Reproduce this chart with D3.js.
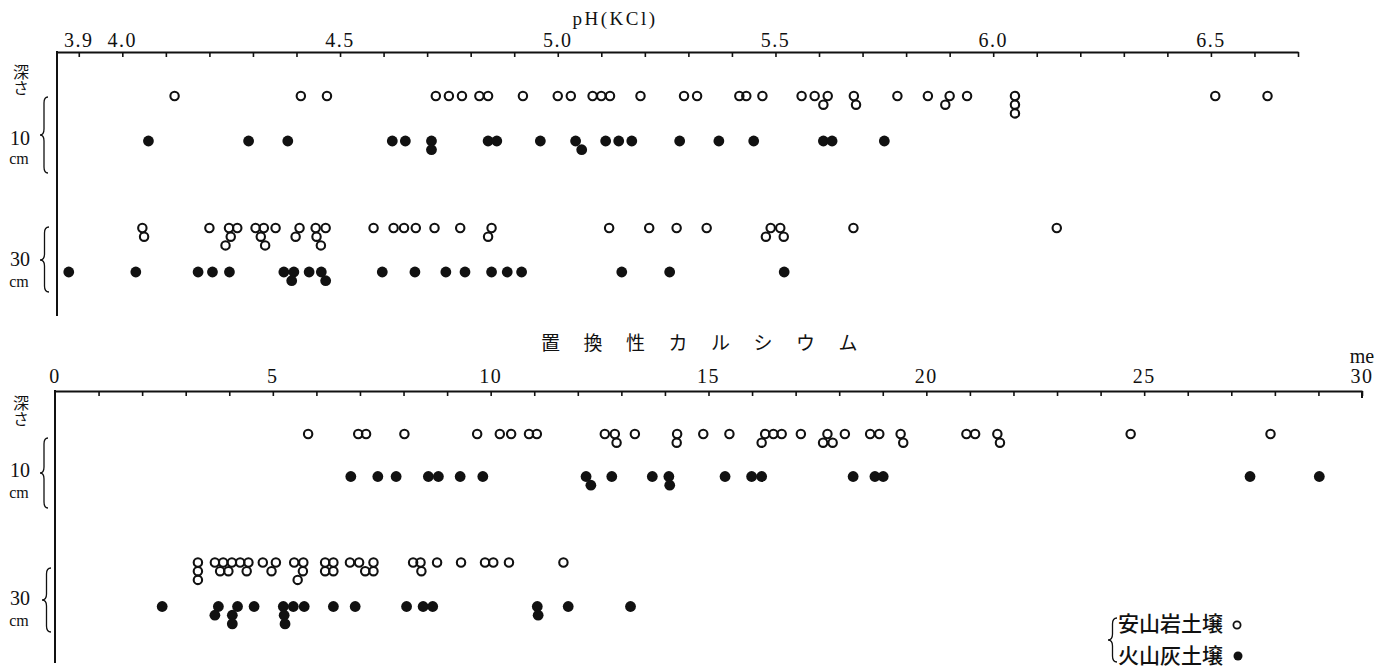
<!DOCTYPE html>
<html>
<head>
<meta charset="utf-8">
<script src="https://cdn.jsdelivr.net/npm/d3@7"></script>
<style>
  html, body { margin: 0; padding: 0; background: #fff; }
  svg { display: block; }
  .vert { writing-mode: vertical-rl; text-orientation: upright; }
</style>
</head>
<body>
<svg id="chart" width="1392" height="668"></svg>
<script>
// ---- pH (KCl) ----
const phTickLabels = [3.9, 4.0, 4.5, 5.0, 5.5, 6.0, 6.5];
const phAndesite10 = [4.12, 4.41, 4.47, 4.72, 4.75, 4.78, 4.82, 4.84, 4.92, 5.00, 5.03, 5.08, 5.10, 5.12,
  5.19, 5.29, 5.32, 5.417, 5.433, 5.47, 5.56, 5.59, 5.62, 5.61, 5.68, 5.685, 5.78, 5.85, 5.90, 5.89,
  5.94, 6.05, 6.05, 6.05, 6.51, 6.63];
const phVolcanic10 = [4.06, 4.29, 4.38, 4.62, 4.65, 4.71, 4.71, 4.84, 4.86, 4.96, 5.041, 5.055, 5.11,
  5.14, 5.17, 5.28, 5.37, 5.45, 5.61, 5.63, 5.75];
const phAndesite30 = [4.046, 4.05, 4.20, 4.245, 4.264, 4.249, 4.237, 4.306, 4.325, 4.318, 4.328, 4.352,
  4.407, 4.398, 4.444, 4.446, 4.467, 4.456, 4.577, 4.623, 4.647, 4.674, 4.717, 4.776, 4.848, 4.84,
  5.118, 5.21, 5.273, 5.342, 5.489, 5.511, 5.478, 5.519, 5.679, 6.146];
const phVolcanic30 = [3.877, 4.031, 4.174, 4.207, 4.246, 4.371, 4.394, 4.389, 4.429, 4.457, 4.467,
  4.597, 4.672, 4.743, 4.787, 4.848, 4.884, 4.917, 5.147, 5.257, 5.52];

// ---- exchangeable calcium (me) ----
const caTickLabels = [0, 5, 10, 15, 20, 25, 30];
const caAndesite10 = [5.81, 6.96, 7.14, 8.02, 9.69, 10.21, 10.47, 10.88, 11.06, 12.62, 12.85, 12.89,
  13.31, 14.28, 14.27, 14.88, 15.48, 16.30, 16.49, 16.68, 16.22, 17.12, 17.73, 17.63, 17.85, 18.13,
  18.71, 18.92, 19.41, 19.47, 20.92, 21.12, 21.63, 21.69, 24.69, 27.90];
const caVolcanic10 = [6.79, 7.41, 7.83, 8.57, 8.80, 9.30, 9.82, 12.19, 12.30, 12.78, 13.71, 14.09,
  14.11, 15.38, 15.99, 16.22, 18.32, 18.82, 19.01, 27.43, 29.02];
const caAndesite30 = [3.28, 3.28, 3.28, 3.67, 3.86, 4.06, 4.25, 4.44, 3.79, 3.98, 4.40, 4.77, 5.07,
  4.97, 5.49, 5.70, 5.69, 5.57, 6.20, 6.39, 6.20, 6.39, 6.77, 6.98, 7.31, 7.12, 7.31, 8.22, 8.39,
  8.41, 8.77, 9.32, 9.87, 10.06, 10.42, 11.67];
const caVolcanic30 = [2.46, 3.75, 3.67, 4.19, 4.07, 4.07, 4.57, 5.24, 5.26, 5.28, 5.47, 5.72, 6.39,
  6.89, 8.07, 8.45, 8.67, 11.07, 11.09, 11.78, 13.21];

// ---- text ----
const phTitle = "pH(KCl)";
const caTitle = "置換性カルシウム";
const caUnit = "me";
const depthWord = "深さ";
const depthLabels = ["10", "30"];
const depthUnit = "cm";
const legendLabels = ["安山岩土壌", "火山灰土壌"];

const INK = "#111";
const SERIF = "'Liberation Serif', 'DejaVu Serif', serif";
const JP = "'Noto Sans CJK JP', sans-serif";

const svg = d3.select("#chart");

const xPh = d3.scaleLinear().domain([3.85, 6.70]).range([57, 1298]);
const xCa = d3.scaleLinear().domain([0, 30]).range([55, 1362]);

// horizontal axis with small downward ticks
function drawAxis(scale, y, minor) {
  const g = svg.append("g")
    .attr("transform", `translate(0,${y})`)
    .call(d3.axisBottom(scale).tickValues(minor).tickSize(5).tickSizeOuter(0).tickFormat(""));
  g.select(".domain").attr("stroke", INK).attr("stroke-width", 2);
  g.selectAll(".tick line").attr("stroke", INK).attr("stroke-width", 1.6);
  return g;
}

function tickLabels(scale, values, y, fmt) {
  svg.append("g").selectAll("text").data(values).join("text")
    .attr("x", d => scale(d))
    .attr("y", y)
    .attr("text-anchor", "middle")
    .attr("font-family", SERIF)
    .attr("font-size", 20)
    .attr("letter-spacing", 1.5)
    .attr("fill", INK)
    .text(fmt);
}

// duplicate or near-coincident readings are stacked downward
function plotRow(values, scale, y, filled) {
  const placed = [];
  const pts = values.map(v => {
    const px = scale(v);
    let level = 0;
    while ((placed[level] || []).some(p => Math.abs(p - px) < 6.5)) level++;
    (placed[level] = placed[level] || []).push(px);
    return { v, level };
  });
  svg.append("g").selectAll("circle").data(pts).join("circle")
    .attr("cx", d => scale(d.v))
    .attr("cy", d => y + d.level * 8.7)
    .attr("r", filled ? 5.4 : 4.2)
    .attr("fill", filled ? INK : "none")
    .attr("stroke", filled ? "none" : INK)
    .attr("stroke-width", 2.1);
}

function brace(xR, xTip, y1, y2, yMid) {
  const xm = (xR + xTip) / 2;
  const r = 6;
  const p = `M${xR},${y1} Q${xm},${y1} ${xm},${y1 + r} L${xm},${yMid - r} Q${xm},${yMid} ${xTip},${yMid}` +
    ` Q${xm},${yMid} ${xm},${yMid + r} L${xm},${y2 - r} Q${xm},${y2} ${xR},${y2}`;
  svg.append("path").attr("d", p).attr("fill", "none").attr("stroke", INK).attr("stroke-width", 1.3);
}

function depthBlock(label, yNum, yUnit, b) {
  svg.append("text").attr("x", 20).attr("y", yNum).attr("text-anchor", "middle")
    .attr("font-family", SERIF).attr("font-size", 20).attr("fill", INK).text(label);
  svg.append("text").attr("x", 19).attr("y", yUnit).attr("text-anchor", "middle")
    .attr("font-family", SERIF).attr("font-size", 16).attr("fill", INK).text(depthUnit);
  brace(b[0], b[1], b[2], b[3], b[4]);
}

// "深さ" written top-to-bottom
function depthWordAt(yTop) {
  svg.append("text").attr("class", "vert").attr("x", 21).attr("y", yTop)
    .attr("font-family", JP).attr("font-size", 16).attr("fill", INK).text(depthWord);
}

// ================= upper panel: pH(KCl) =================
drawAxis(xPh, 52, d3.range(39, 68).map(d => d / 10));
svg.append("line").attr("x1", 57).attr("x2", 57).attr("y1", 51).attr("y2", 316)
  .attr("stroke", INK).attr("stroke-width", 2);
tickLabels(xPh, phTickLabels, 47, d => d.toFixed(1));
svg.append("text").attr("x", 615).attr("y", 25).attr("text-anchor", "middle")
  .attr("font-family", SERIF).attr("font-size", 19).attr("letter-spacing", 2.5)
  .attr("fill", INK).text(phTitle);

depthWordAt(64);
depthBlock(depthLabels[0], 145, 164, [48, 40, 97, 173, 135]);
depthBlock(depthLabels[1], 266, 287, [49, 40, 227, 292, 260]);

plotRow(phAndesite10, xPh, 96, false);
plotRow(phVolcanic10, xPh, 141, true);
plotRow(phAndesite30, xPh, 228, false);
plotRow(phVolcanic30, xPh, 272, true);

// ================= lower panel: exchangeable calcium =================
drawAxis(xCa, 391, d3.range(1, 31));
svg.append("line").attr("x1", xCa(30)).attr("x2", xCa(30)).attr("y1", 391).attr("y2", 398)
  .attr("stroke", INK).attr("stroke-width", 2);
svg.append("line").attr("x1", 55).attr("x2", 55).attr("y1", 390).attr("y2", 663)
  .attr("stroke", INK).attr("stroke-width", 2);
tickLabels(xCa, caTickLabels, 383, d => String(d));
svg.append("text").attr("x", xCa(30)).attr("y", 363).attr("text-anchor", "middle")
  .attr("font-family", SERIF).attr("font-size", 20).attr("fill", INK).text(caUnit);
svg.append("text").attr("x", 541).attr("y", 350)
  .attr("font-family", JP).attr("font-size", 19).attr("letter-spacing", 23.5)
  .attr("fill", INK).text(caTitle);

depthWordAt(395);
depthBlock(depthLabels[0], 477, 498, [48, 40, 438, 508, 473]);
depthBlock(depthLabels[1], 605, 626, [51, 42, 568, 632, 600]);

plotRow(caAndesite10, xCa, 434, false);
plotRow(caVolcanic10, xCa, 476.5, true);
plotRow(caAndesite30, xCa, 562.5, false);
plotRow(caVolcanic30, xCa, 606.5, true);

// ---- legend ----
brace(1117, 1108, 618, 662, 640);
svg.append("text").attr("x", 1118).attr("y", 631)
  .attr("font-family", JP).attr("font-size", 21).attr("font-weight", 500)
  .attr("fill", INK).text(legendLabels[0]);
svg.append("text").attr("x", 1118).attr("y", 663)
  .attr("font-family", JP).attr("font-size", 21).attr("font-weight", 500)
  .attr("fill", INK).text(legendLabels[1]);
svg.append("circle").attr("cx", 1237).attr("cy", 625).attr("r", 3.6)
  .attr("fill", "none").attr("stroke", INK).attr("stroke-width", 1.8);
svg.append("circle").attr("cx", 1238).attr("cy", 656).attr("r", 4.5).attr("fill", INK);
</script>
</body>
</html>
